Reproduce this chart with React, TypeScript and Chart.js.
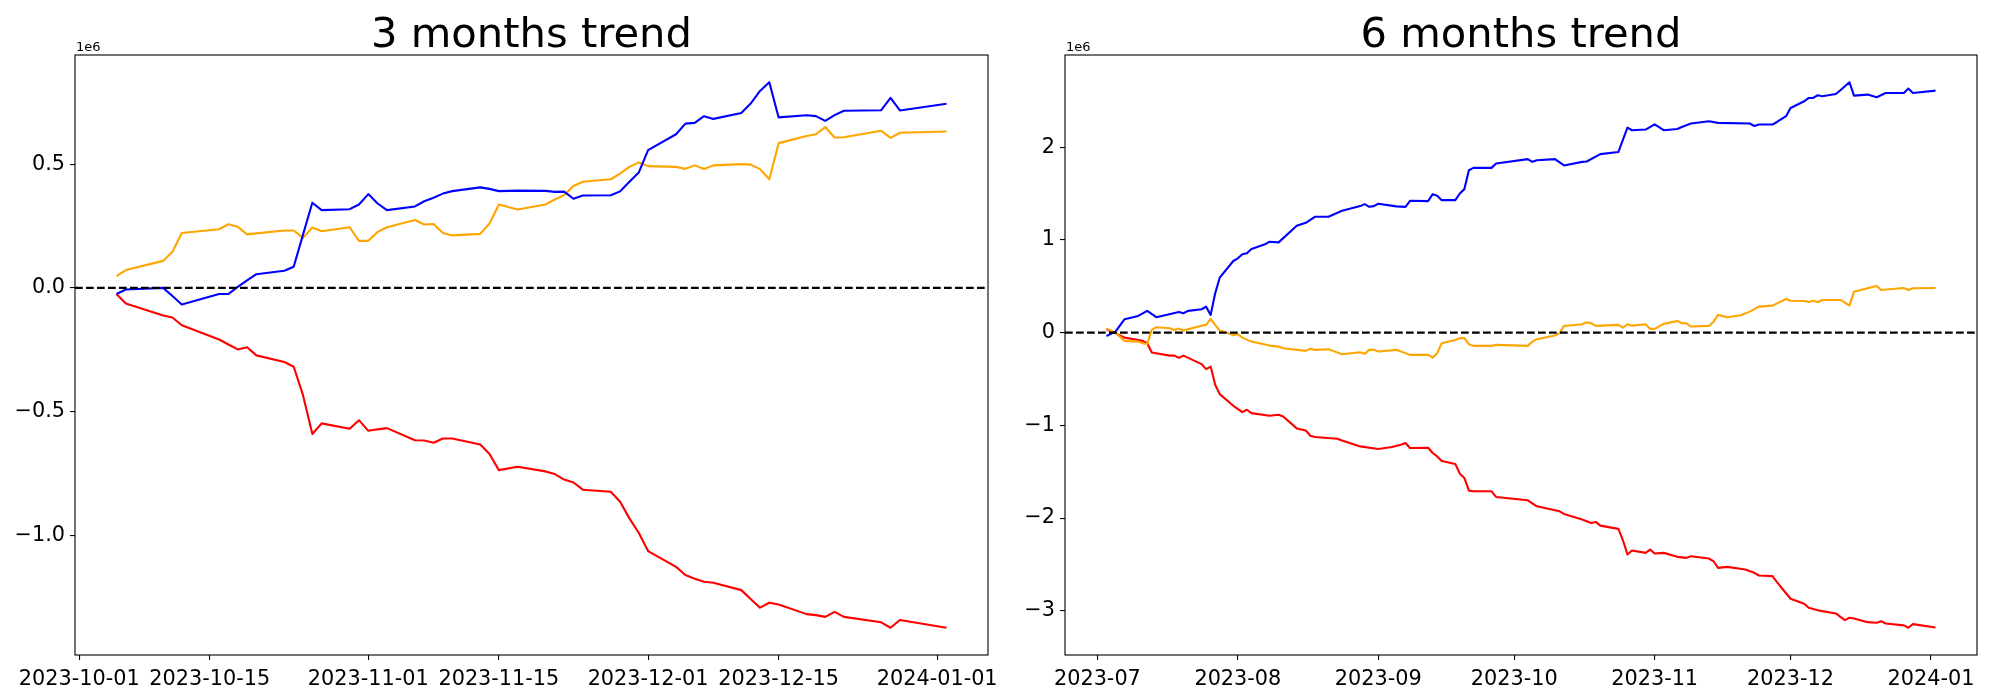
import React, { useEffect, useRef } from 'react';
import { Chart, registerables } from 'chart.js';

Chart.register(...registerables);

// ---------------- DATA (values in millions, axis shows "1e6") ----------------
// Left panel: 3 months trend
const leftDates = [
  '2023-10-05', '2023-10-06', '2023-10-10', '2023-10-11', '2023-10-12', '2023-10-16', '2023-10-17', '2023-10-18', '2023-10-19', '2023-10-20',
  '2023-10-23', '2023-10-24', '2023-10-25', '2023-10-26', '2023-10-27', '2023-10-30', '2023-10-31', '2023-11-01', '2023-11-02', '2023-11-03',
  '2023-11-06', '2023-11-07', '2023-11-08', '2023-11-09', '2023-11-10', '2023-11-13', '2023-11-14', '2023-11-15', '2023-11-17', '2023-11-20',
  '2023-11-21', '2023-11-22', '2023-11-23', '2023-11-24', '2023-11-27', '2023-11-28', '2023-11-29', '2023-11-30', '2023-12-01', '2023-12-04',
  '2023-12-05', '2023-12-06', '2023-12-07', '2023-12-08', '2023-12-11', '2023-12-12', '2023-12-13', '2023-12-14', '2023-12-15', '2023-12-18',
  '2023-12-19', '2023-12-20', '2023-12-21', '2023-12-22', '2023-12-26', '2023-12-27', '2023-12-28', '2024-01-02',
];
const leftBlue = [
  -0.025, -0.007, 0.0, -0.033, -0.067, -0.025, -0.025, 0.004, 0.03, 0.055,
  0.069, 0.085, 0.215, 0.344, 0.314, 0.318, 0.337, 0.379, 0.341, 0.314,
  0.329, 0.35, 0.364, 0.381, 0.391, 0.406, 0.4, 0.391, 0.393, 0.392,
  0.388, 0.389, 0.36, 0.373, 0.374, 0.39, 0.429, 0.466, 0.557, 0.621,
  0.664, 0.667, 0.694, 0.683, 0.707, 0.745, 0.796, 0.831, 0.689, 0.698,
  0.694, 0.675, 0.698, 0.716, 0.718, 0.768, 0.717, 0.744,
];
const leftOrange = [
  0.047, 0.072, 0.109, 0.146, 0.222, 0.237, 0.257, 0.247, 0.216, 0.22,
  0.232, 0.232, 0.202, 0.244, 0.229, 0.245, 0.19, 0.19, 0.226, 0.245,
  0.274, 0.256, 0.258, 0.222, 0.212, 0.218, 0.26, 0.337, 0.317, 0.337,
  0.357, 0.375, 0.412, 0.429, 0.439, 0.462, 0.489, 0.507, 0.492, 0.489,
  0.481, 0.495, 0.48, 0.495, 0.5, 0.498, 0.48, 0.439, 0.585, 0.614,
  0.621, 0.65, 0.608, 0.609, 0.635, 0.606, 0.627, 0.632,
];
const leftRed = [
  -0.025, -0.063, -0.112, -0.12, -0.151, -0.209, -0.229, -0.249, -0.24, -0.273,
  -0.3, -0.319, -0.434, -0.591, -0.548, -0.57, -0.535, -0.578, -0.572, -0.567,
  -0.616, -0.617, -0.626, -0.609, -0.609, -0.633, -0.672, -0.737, -0.723, -0.742,
  -0.753, -0.775, -0.787, -0.816, -0.824, -0.865, -0.932, -0.99, -1.064, -1.128,
  -1.161, -1.176, -1.188, -1.192, -1.222, -1.258, -1.293, -1.273, -1.28, -1.319,
  -1.323, -1.33, -1.31, -1.33, -1.352, -1.374, -1.343, -1.374,
];
const leftXTickLabels = ['2023-10-01', '2023-10-15', '2023-11-01', '2023-11-15', '2023-12-01', '2023-12-15', '2024-01-01'];
const leftYTicks = [-1.0, -0.5, 0.0, 0.5];
const leftYTickLabels = ['\u22121.0', '\u22120.5', '0.0', '0.5'];

// Right panel: 6 months trend
const rightBlueDates = [
  '2023-07-03', '2023-07-05', '2023-07-07', '2023-07-10', '2023-07-12', '2023-07-14', '2023-07-19', '2023-07-20', '2023-07-21', '2023-07-24',
  '2023-07-25', '2023-07-26', '2023-07-27', '2023-07-28', '2023-07-31', '2023-08-01', '2023-08-02', '2023-08-03', '2023-08-04', '2023-08-07',
  '2023-08-08', '2023-08-10', '2023-08-14', '2023-08-16', '2023-08-18', '2023-08-21', '2023-08-24', '2023-08-28', '2023-08-29', '2023-08-30',
  '2023-08-31', '2023-09-01', '2023-09-05', '2023-09-07', '2023-09-08', '2023-09-12', '2023-09-13', '2023-09-14', '2023-09-15', '2023-09-18',
  '2023-09-19', '2023-09-20', '2023-09-21', '2023-09-22', '2023-09-26', '2023-09-27', '2023-10-04', '2023-10-05', '2023-10-06', '2023-10-10',
  '2023-10-12', '2023-10-16', '2023-10-17', '2023-10-20', '2023-10-24', '2023-10-26', '2023-10-27', '2023-10-30', '2023-11-01', '2023-11-03',
  '2023-11-06', '2023-11-07', '2023-11-09', '2023-11-13', '2023-11-15', '2023-11-22', '2023-11-23', '2023-11-24', '2023-11-27', '2023-11-28',
  '2023-11-30', '2023-12-01', '2023-12-04', '2023-12-05', '2023-12-06', '2023-12-07', '2023-12-08', '2023-12-11', '2023-12-12', '2023-12-14',
  '2023-12-15', '2023-12-18', '2023-12-20', '2023-12-22', '2023-12-26', '2023-12-27', '2023-12-28', '2024-01-02',
];
const rightBlueValues = [
  -0.036, 0.011, 0.144, 0.18, 0.234, 0.166, 0.223, 0.209, 0.234, 0.252,
  0.28, 0.191, 0.424, 0.592, 0.772, 0.801, 0.844, 0.855, 0.901, 0.952,
  0.98, 0.973, 1.152, 1.184, 1.249, 1.249, 1.313, 1.364, 1.385, 1.356,
  1.364, 1.389, 1.361, 1.356, 1.421, 1.418, 1.493, 1.475, 1.428, 1.428,
  1.5, 1.547, 1.751, 1.776, 1.776, 1.823, 1.87, 1.841, 1.859, 1.87,
  1.802, 1.841, 1.845, 1.924, 1.948, 2.211, 2.182, 2.189, 2.246, 2.182,
  2.196, 2.217, 2.254, 2.279, 2.261, 2.254, 2.228, 2.243, 2.243, 2.271,
  2.333, 2.422, 2.494, 2.53, 2.53, 2.559, 2.548, 2.573, 2.613, 2.699,
  2.555, 2.566, 2.537, 2.583, 2.583, 2.631, 2.583, 2.609,
];
const rightOrangeDates = [
  '2023-07-03', '2023-07-05', '2023-07-07', '2023-07-10', '2023-07-11', '2023-07-12', '2023-07-13', '2023-07-14', '2023-07-17', '2023-07-18',
  '2023-07-19', '2023-07-20', '2023-07-21', '2023-07-24', '2023-07-25', '2023-07-26', '2023-07-27', '2023-07-28', '2023-07-31', '2023-08-01',
  '2023-08-02', '2023-08-04', '2023-08-08', '2023-08-10', '2023-08-11', '2023-08-16', '2023-08-17', '2023-08-18', '2023-08-21', '2023-08-22',
  '2023-08-24', '2023-08-28', '2023-08-29', '2023-08-30', '2023-08-31', '2023-09-01', '2023-09-05', '2023-09-08', '2023-09-12', '2023-09-13',
  '2023-09-14', '2023-09-15', '2023-09-18', '2023-09-19', '2023-09-20', '2023-09-21', '2023-09-22', '2023-09-26', '2023-09-27', '2023-10-04',
  '2023-10-05', '2023-10-06', '2023-10-10', '2023-10-11', '2023-10-12', '2023-10-16', '2023-10-17', '2023-10-18', '2023-10-19', '2023-10-24',
  '2023-10-25', '2023-10-26', '2023-10-27', '2023-10-30', '2023-10-31', '2023-11-01', '2023-11-03', '2023-11-06', '2023-11-07', '2023-11-08',
  '2023-11-09', '2023-11-13', '2023-11-14', '2023-11-15', '2023-11-17', '2023-11-20', '2023-11-22', '2023-11-24', '2023-11-27', '2023-11-30',
  '2023-12-01', '2023-12-04', '2023-12-05', '2023-12-06', '2023-12-07', '2023-12-08', '2023-12-12', '2023-12-13', '2023-12-14', '2023-12-15',
  '2023-12-18', '2023-12-20', '2023-12-21', '2023-12-26', '2023-12-27', '2023-12-28', '2024-01-02',
];
const rightOrangeValues = [
  0.043, 0.0, -0.089, -0.097, -0.114, -0.122, 0.029, 0.058, 0.047, 0.029,
  0.043, 0.022, 0.036, 0.075, 0.083, 0.147, 0.083, 0.022, -0.025, -0.018,
  -0.054, -0.097, -0.14, -0.151, -0.168, -0.197, -0.175, -0.186, -0.179, -0.197,
  -0.233, -0.211, -0.229, -0.186, -0.186, -0.204, -0.186, -0.24, -0.24, -0.269,
  -0.222, -0.114, -0.079, -0.06, -0.06, -0.125, -0.143, -0.143, -0.132, -0.143,
  -0.097, -0.071, -0.032, -0.006, 0.072, 0.09, 0.112, 0.101, 0.072, 0.083,
  0.054, 0.09, 0.075, 0.09, 0.04, 0.04, 0.094, 0.126, 0.101, 0.101,
  0.065, 0.072, 0.118, 0.191, 0.166, 0.187, 0.226, 0.28, 0.291, 0.363,
  0.344, 0.341, 0.33, 0.344, 0.327, 0.352, 0.352, 0.323, 0.291, 0.441,
  0.478, 0.503, 0.46, 0.481, 0.46, 0.478, 0.481,
];
const rightRedDates = [
  '2023-07-03', '2023-07-05', '2023-07-07', '2023-07-10', '2023-07-11', '2023-07-12', '2023-07-13', '2023-07-17', '2023-07-18', '2023-07-19',
  '2023-07-20', '2023-07-24', '2023-07-25', '2023-07-26', '2023-07-27', '2023-07-28', '2023-07-31', '2023-08-02', '2023-08-03', '2023-08-04',
  '2023-08-08', '2023-08-10', '2023-08-11', '2023-08-14', '2023-08-16', '2023-08-17', '2023-08-18', '2023-08-23', '2023-08-24', '2023-08-28',
  '2023-09-01', '2023-09-04', '2023-09-06', '2023-09-07', '2023-09-08', '2023-09-12', '2023-09-13', '2023-09-14', '2023-09-15', '2023-09-18',
  '2023-09-19', '2023-09-20', '2023-09-21', '2023-09-22', '2023-09-26', '2023-09-27', '2023-10-04', '2023-10-06', '2023-10-11', '2023-10-12',
  '2023-10-16', '2023-10-18', '2023-10-19', '2023-10-20', '2023-10-24', '2023-10-25', '2023-10-26', '2023-10-27', '2023-10-30', '2023-10-31',
  '2023-11-01', '2023-11-03', '2023-11-06', '2023-11-08', '2023-11-09', '2023-11-13', '2023-11-14', '2023-11-15', '2023-11-17', '2023-11-21',
  '2023-11-23', '2023-11-24', '2023-11-27', '2023-11-28', '2023-11-29', '2023-12-01', '2023-12-04', '2023-12-05', '2023-12-07', '2023-12-08',
  '2023-12-11', '2023-12-12', '2023-12-13', '2023-12-14', '2023-12-15', '2023-12-18', '2023-12-20', '2023-12-21', '2023-12-22', '2023-12-26',
  '2023-12-27', '2023-12-28', '2024-01-02',
];
const rightRedValues = [
  0.036, -0.007, -0.054, -0.079, -0.089, -0.114, -0.215, -0.248, -0.248, -0.272,
  -0.248, -0.34, -0.394, -0.366, -0.563, -0.663, -0.789, -0.857, -0.832, -0.868,
  -0.897, -0.886, -0.904, -1.033, -1.055, -1.112, -1.126, -1.144, -1.163, -1.227,
  -1.255, -1.234, -1.209, -1.191, -1.244, -1.241, -1.298, -1.335, -1.384, -1.417,
  -1.521, -1.567, -1.704, -1.711, -1.711, -1.772, -1.808, -1.873, -1.927, -1.955,
  -2.016, -2.052, -2.041, -2.081, -2.116, -2.239, -2.393, -2.35, -2.375, -2.339,
  -2.382, -2.375, -2.418, -2.429, -2.411, -2.436, -2.465, -2.537, -2.526, -2.554,
  -2.59, -2.619, -2.626, -2.691, -2.751, -2.87, -2.924, -2.967, -2.993, -3.003,
  -3.028, -3.064, -3.1, -3.074, -3.082, -3.122, -3.128, -3.111, -3.136, -3.157,
  -3.182, -3.143, -3.179,
];
const rightXTickLabels = ['2023-07', '2023-08', '2023-09', '2023-10', '2023-11', '2023-12', '2024-01'];
const rightYTicks = [-3, -2, -1, 0, 1, 2];
const rightYTickLabels = ['\u22123', '\u22122', '\u22121', '0', '1', '2'];

const BLUE = '#0000ff';
const ORANGE = '#ffa500';
const RED = '#ff0000';
const FONT = "'DejaVu Sans', sans-serif";

// ---------------- helpers ----------------
function dayNum(s: string): number {
  const p = s.split('-').map(Number);
  return Date.UTC(p[0], (p[1] || 1) - 1, p[2] || 1) / 86400000;
}

type Series = { dates: string[]; values: number[]; color: string };

type PanelProps = {
  title: string;
  series: Series[];
  xTickLabels: string[];
  yTicks: number[];
  yTickLabels: string[];
  canvasLeft: number;
  areaLeft: number;
  areaRight: number;
};

function Panel(props: PanelProps) {
  const ref = useRef<HTMLCanvasElement | null>(null);
  useEffect(() => {
    const canvas = ref.current;
    if (!canvas) return;
    const { title, series, xTickLabels, yTicks, yTickLabels, areaLeft, areaRight } = props;
    const W = 1000;
    const H = 700;
    const areaTop = 55;
    const areaBottom = 655;

    const datasets = series.map((s) => ({
      data: s.dates.map((d, i) => ({ x: dayNum(d), y: s.values[i] })),
      borderColor: s.color,
      backgroundColor: s.color,
      borderWidth: 2.1,
      pointRadius: 0,
      fill: false,
      tension: 0,
    }));
    const allX: number[] = [];
    const allY: number[] = [];
    series.forEach((s) => {
      s.dates.forEach((d) => allX.push(dayNum(d)));
      s.values.forEach((v) => allY.push(v));
    });
    const xmin0 = Math.min(...allX);
    const xmax0 = Math.max(...allX);
    const ymin0 = Math.min(...allY);
    const ymax0 = Math.max(...allY);
    const xm = (xmax0 - xmin0) * 0.05;
    const ym = (ymax0 - ymin0) * 0.05;
    const xTickVals = xTickLabels.map(dayNum);

    const overlay = {
      id: 'mplOverlay',
      afterDatasetsDraw(chart: any) {
        const { ctx, chartArea: a, scales } = chart;
        ctx.save();
        const y0 = scales.y.getPixelForValue(0);
        ctx.strokeStyle = '#000';
        ctx.lineWidth = 2.1;
        ctx.setLineDash([7.7, 3.3]);
        ctx.beginPath();
        ctx.moveTo(a.left, y0);
        ctx.lineTo(a.right, y0);
        ctx.stroke();
        ctx.setLineDash([]);
        ctx.lineWidth = 1.1;
        ctx.strokeRect(a.left, a.top, a.right - a.left, a.bottom - a.top);
        ctx.fillStyle = '#000';
        ctx.font = `41.67px ${FONT}`;
        ctx.textAlign = 'center';
        ctx.textBaseline = 'alphabetic';
        ctx.fillText(title, (a.left + a.right) / 2, a.top - 8.5);
        ctx.font = `13px ${FONT}`;
        ctx.textAlign = 'left';
        ctx.fillText('1e6', a.left + 1, a.top - 4.5);
        ctx.restore();
      },
    };

    const tickFont = { family: FONT, size: 20.8 };
    const chart = new Chart(canvas, {
      type: 'line',
      data: { datasets },
      options: {
        animation: false,
        responsive: false,
        devicePixelRatio: 1,
        layout: { padding: { left: 0, top: areaTop, right: W - areaRight, bottom: 0 } },
        plugins: { legend: { display: false }, tooltip: { enabled: false }, title: { display: false } },
        elements: { line: { borderCapStyle: 'butt', borderJoinStyle: 'round' } },
        scales: {
          x: {
            type: 'linear',
            min: xmin0 - xm,
            max: xmax0 + xm,
            afterBuildTicks: (s: any) => {
              s.ticks = xTickVals.map((v) => ({ value: v }));
            },
            afterFit: (s: any) => {
              s.height = H - areaBottom;
              s.paddingLeft = 0;
              s.paddingRight = 0;
            },
            ticks: {
              autoSkip: false,
              maxRotation: 0,
              minRotation: 0,
              padding: 7,
              color: '#000',
              font: tickFont,
              callback: (_v: any, i: number) => xTickLabels[i],
            },
            grid: { display: true, drawOnChartArea: false, drawTicks: true, tickLength: 5, color: '#000', lineWidth: 1.1 },
            border: { display: false },
          },
          y: {
            type: 'linear',
            min: ymin0 - ym,
            max: ymax0 + ym,
            afterBuildTicks: (s: any) => {
              s.ticks = yTicks.map((v) => ({ value: v }));
            },
            afterFit: (s: any) => {
              s.width = areaLeft;
              s.paddingTop = 0;
              s.paddingBottom = 0;
            },
            ticks: {
              autoSkip: false,
              padding: 5,
              color: '#000',
              font: tickFont,
              callback: (_v: any, i: number) => yTickLabels[i],
            },
            grid: { display: true, drawOnChartArea: false, drawTicks: true, tickLength: 5, color: '#000', lineWidth: 1.1 },
            border: { display: false },
          },
        },
      } as any,
      plugins: [overlay],
    });
    return () => chart.destroy();
  }, []);
  return (
    <canvas
      ref={ref}
      width={1000}
      height={700}
      style={{ position: 'absolute', left: props.canvasLeft, top: 0, width: 1000, height: 700 }}
    />
  );
}

export default function App() {
  return (
    <div style={{ position: 'fixed', left: 0, top: 0, width: 2000, height: 700, background: '#fff' }}>
      <Panel
        title="3 months trend"
        series={[
          { dates: leftDates, values: leftBlue, color: BLUE },
          { dates: leftDates, values: leftOrange, color: ORANGE },
          { dates: leftDates, values: leftRed, color: RED },
        ]}
        xTickLabels={leftXTickLabels}
        yTicks={leftYTicks}
        yTickLabels={leftYTickLabels}
        canvasLeft={0}
        areaLeft={75}
        areaRight={988}
      />
      <Panel
        title="6 months trend"
        series={[
          { dates: rightBlueDates, values: rightBlueValues, color: BLUE },
          { dates: rightOrangeDates, values: rightOrangeValues, color: ORANGE },
          { dates: rightRedDates, values: rightRedValues, color: RED },
        ]}
        xTickLabels={rightXTickLabels}
        yTicks={rightYTicks}
        yTickLabels={rightYTickLabels}
        canvasLeft={1000}
        areaLeft={65}
        areaRight={977}
      />
    </div>
  );
}
